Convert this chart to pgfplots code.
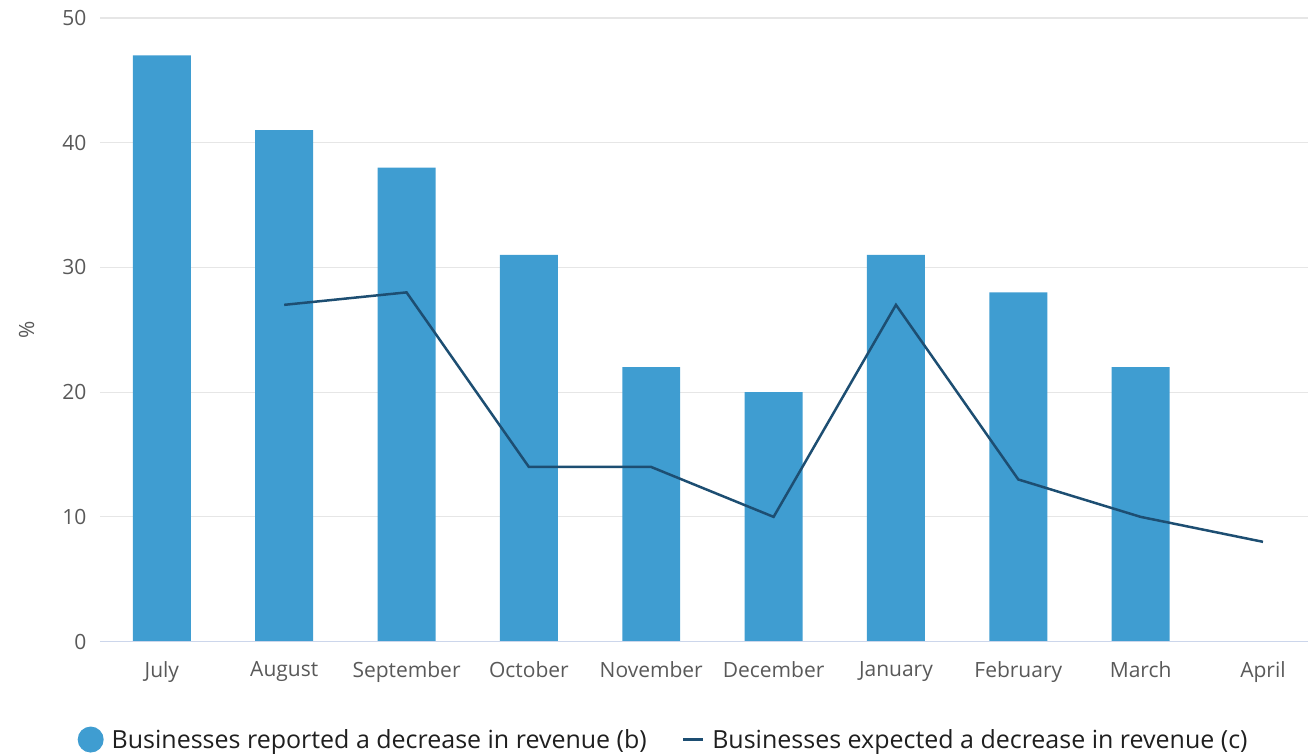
\documentclass[border=0pt]{standalone}
\usepackage{pgfplots}
\pgfplotsset{compat=1.18}
\usepackage{fontspec}
\setmainfont{Open Sans}
\definecolor{barblue}{HTML}{3F9DD1}
\definecolor{linenavy}{HTML}{1D4E72}
\definecolor{gridgray}{HTML}{E6E6E6}
\definecolor{axisline}{HTML}{CCD6EB}
\definecolor{ticktext}{HTML}{595959}
\begin{document}
\begin{tikzpicture}
\begin{axis}[
  scale only axis,
  width=1209pt, height=624pt,
  xmin=-0.506, xmax=9.37,
  ymin=0, ymax=50,
  ytick={0,10,20,30,40,50},
  xtick={0,1,2,3,4,5,6,7,8,9},
  xticklabels={July,August,September,October,November,December,January,February,March,April},
  axis line style={draw=none},
  axis x line*=bottom,
  axis y line*=left,
  major tick length=0pt,
  ymajorgrids,
  grid style={gridgray, line width=1.2pt},
  tick label style={font=\fontsize{21}{23}\selectfont, text=ticktext},
  yticklabel style={xshift=-10pt},
  xticklabel style={yshift=-16pt},
  /pgf/number format/assume math mode=true,
  ylabel={\%},
  ylabel style={font=\fontsize{21}{23}\selectfont, text=ticktext, at={(-62pt,0.5)}},
  legend style={draw=none, at={(0.4665,-98pt)}, anchor=center, legend columns=2,
    font=\fontsize{25}{27}\selectfont, text=black!88,
    /tikz/every even column/.append style={column sep=33pt}},
  legend cell align=left,
  clip=false,
]
\addplot[ybar, bar width=58pt, fill=barblue, draw=none,
  legend image code/.code={\fill[barblue] (0pt,0pt) circle (13pt);}]
  coordinates {(0,47) (1,41) (2,38) (3,31) (4,22) (5,20) (6,31) (7,28) (8,22)};
\addlegendentry{\hspace{6pt}Businesses reported a decrease in revenue (b)}
\addplot[linenavy, line width=2.5pt, mark=none,
  legend image code/.code={\draw[linenavy, line width=2.5pt] (0pt,0pt) -- (20pt,0pt);}]
  coordinates {(1,27) (2,28) (3,14) (4,14) (5,10) (6,27) (7,13) (8,10) (9,8)};
\addlegendentry{\hspace{6pt}Businesses expected a decrease in revenue (c)}
\draw[axisline, line width=1.5pt] (rel axis cs:0,0) -- (rel axis cs:1,0);
\end{axis}
\path ([shift={(-100pt,-112pt)}]current axis.south west) rectangle ([shift={(0pt,18pt)}]current axis.north east);
\end{tikzpicture}
\end{document}
